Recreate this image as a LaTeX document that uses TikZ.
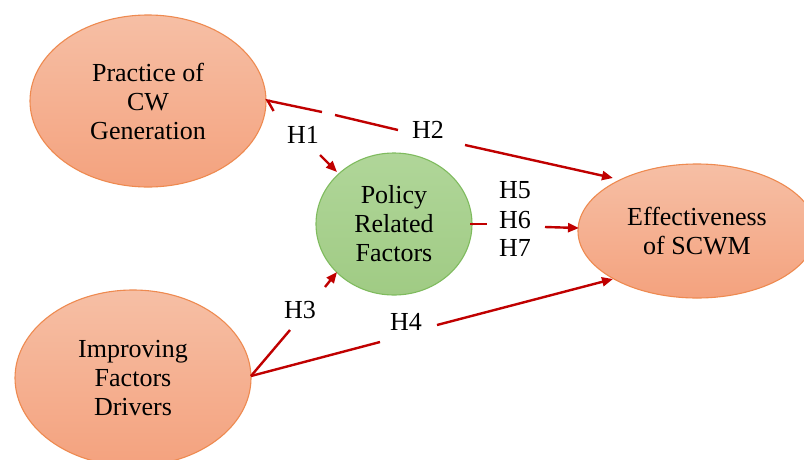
\documentclass[tikz,border=0pt]{standalone}
\usepackage{fontspec}
\setmainfont{Liberation Serif}
\newfontfamily\timesfont{Liberation Serif}
\usetikzlibrary{shapes.geometric,arrows.meta}
\definecolor{arr}{HTML}{C00000}
\definecolor{otop}{HTML}{F6BFA5}
\definecolor{obot}{HTML}{F4A27E}
\definecolor{ocl}{HTML}{EE8A50}
\definecolor{gtop}{HTML}{B0D699}
\definecolor{gbot}{HTML}{A0CB84}
\definecolor{gcl}{HTML}{7FBB5E}
\begin{document}
\begin{tikzpicture}[x=1pt,y=-1pt,
  txt/.style={font=\timesfont\fontsize{26}{29}\selectfont, text=black},
  oval/.style={ellipse, draw=ocl, line width=1.1pt, top color=otop, bottom color=obot, inner sep=0pt, align=center, txt},
  green/.style={ellipse, draw=gcl, line width=1.1pt, top color=gtop, bottom color=gbot, inner sep=0pt, align=center, txt},
  lab/.style={txt, inner sep=0pt},
  conn/.style={draw=arr, line width=2.4pt},
  tip/.style={-{Triangle[length=11pt,width=9pt]}},
  barb/.style={-{Straight Barb[left,length=8pt,width=18pt]}}
]
\useasboundingbox (0,0) rectangle (804,459);
\clip (0,0) rectangle (804,459);
\fill[white] (0,0) rectangle (804,459);

\node[oval, minimum width=236pt, minimum height=172pt] (pc) at (148,101) {Practice of\\CW\\Generation};
\node[green, minimum width=156pt, minimum height=142pt] (pr) at (394,224) {Policy\\Related\\Factors};
\node[oval, minimum width=236pt, minimum height=176pt] (im) at (133,378) {Improving\\Factors\\Drivers};
\node[oval, minimum width=238pt, minimum height=134pt] (ef) at (697,231) {Effectiveness\\of SCWM};

\node[lab] (h1) at (303,135) {H1};
\node[lab] (h2) at (428,130) {H2};
\node[lab] (h3) at (300,310) {H3};
\node[lab] (h4) at (406,322) {H4};
\node[lab] (h5) at (515,190) {H5};
\node[lab] (h6) at (515,220) {H6};
\node[lab] (h7) at (515,248) {H7};

% connector end points
\coordinate (a1) at (265,100);
\coordinate (a2) at (322,112);
\coordinate (a3) at (335,115);
\coordinate (a4) at (398,130);
\coordinate (a5) at (465,145);
\coordinate (a6) at (613,178);
\coordinate (b1) at (320,155);
\coordinate (b2) at (337,172);
\coordinate (c0) at (251,376);
\coordinate (c1) at (290,330);
\coordinate (c2) at (325,287);
\coordinate (c3) at (337,272);
\coordinate (d1) at (380,342);
\coordinate (d2) at (437,325);
\coordinate (d3) at (613,279);
\coordinate (e1) at (470,224);
\coordinate (e2) at (487,224);
\coordinate (e3) at (545,227);
\coordinate (e4) at (579,228);

\draw[conn, barb] (a2) -- (a1);
\draw[conn] (a3) -- (a4);
\draw[conn, tip] (a5) -- (a6);
\draw[conn, tip] (b1) -- (b2);
\draw[conn] (c0) -- (c1);
\draw[conn, tip] (c2) -- (c3);
\draw[conn] (c0) -- (d1);
\draw[conn, tip] (d2) -- (d3);
\draw[conn] (e1) -- (e2);
\draw[conn, tip] (e3) -- (e4);
\end{tikzpicture}
\end{document}
